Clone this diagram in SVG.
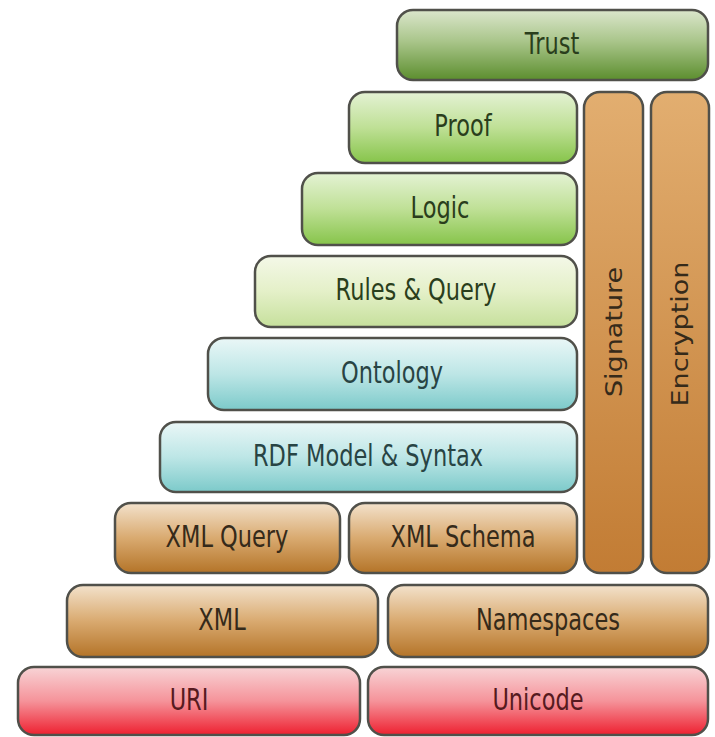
<svg xmlns="http://www.w3.org/2000/svg" width="715" height="737" viewBox="0 0 715 737">
<defs>
<linearGradient id="gTrust" x1="0" y1="0" x2="0" y2="1"><stop offset="0" stop-color="#dbe6cc"/><stop offset="0.45" stop-color="#a9c58a"/><stop offset="1" stop-color="#5c8e2e"/></linearGradient>
<linearGradient id="gGreen" x1="0" y1="0" x2="0" y2="1"><stop offset="0" stop-color="#e4f2d4"/><stop offset="0.5" stop-color="#bfe096"/><stop offset="1" stop-color="#86c44a"/></linearGradient>
<linearGradient id="gLight" x1="0" y1="0" x2="0" y2="1"><stop offset="0" stop-color="#f4f8e8"/><stop offset="0.5" stop-color="#e4f0c8"/><stop offset="1" stop-color="#c6e09c"/></linearGradient>
<linearGradient id="gCyan" x1="0" y1="0" x2="0" y2="1"><stop offset="0" stop-color="#eaf7f7"/><stop offset="0.5" stop-color="#bde6e6"/><stop offset="1" stop-color="#7ccaca"/></linearGradient>
<linearGradient id="gBrown" x1="0" y1="0" x2="0" y2="1"><stop offset="0" stop-color="#f3e2cc"/><stop offset="0.5" stop-color="#d9aa70"/><stop offset="1" stop-color="#b47428"/></linearGradient>
<linearGradient id="gBrownV" x1="0" y1="0" x2="0" y2="1"><stop offset="0" stop-color="#e2ae70"/><stop offset="1" stop-color="#c27c34"/></linearGradient>
<linearGradient id="gRed" x1="0" y1="0" x2="0" y2="1"><stop offset="0" stop-color="#f8d4d6"/><stop offset="0.5" stop-color="#f5939a"/><stop offset="1" stop-color="#ee2030"/></linearGradient>
<style>
rect.box{stroke:#50504a;stroke-width:2.5}
text{font-family:"DejaVu Sans","Liberation Sans",sans-serif;font-size:22.5px;text-anchor:middle;dominant-baseline:central}
.tg{fill:#2a3e1c}
.tc{fill:#284444}
.tb{fill:#352a1a}
.tr{fill:#561a20}
</style>
</defs>
<rect width="715" height="737" fill="#ffffff"/>
<g id="trust"><rect class="box" x="397" y="10" width="311" height="70" rx="16" fill="url(#gTrust)"/><text class="tg" transform="translate(552,44) scale(1,1.3)">Trust</text></g>
<g id="proof"><rect class="box" x="349" y="92" width="228" height="71" rx="16" fill="url(#gGreen)"/><text class="tg" transform="translate(463,126) scale(1,1.3)">Proof</text></g>
<g id="logic"><rect class="box" x="302" y="173" width="275" height="72" rx="16" fill="url(#gGreen)"/><text class="tg" transform="translate(440,208) scale(1,1.3)">Logic</text></g>
<g id="rules"><rect class="box" x="255" y="256" width="322" height="71" rx="16" fill="url(#gLight)"/><text class="tg" transform="translate(416,290) scale(1,1.3)">Rules &amp; Query</text></g>
<g id="ontology"><rect class="box" x="208" y="338" width="369" height="72" rx="16" fill="url(#gCyan)"/><text class="tc" transform="translate(392,373) scale(1,1.3)">Ontology</text></g>
<g id="rdf"><rect class="box" x="160" y="422" width="417" height="70" rx="16" fill="url(#gCyan)"/><text class="tc" transform="translate(368,456) scale(1,1.3)">RDF Model &amp; Syntax</text></g>
<g id="xmlquery"><rect class="box" x="115" y="503" width="225" height="70" rx="16" fill="url(#gBrown)"/><text class="tb" transform="translate(227,537) scale(1,1.3)">XML Query</text></g>
<g id="xmlschema"><rect class="box" x="349" y="503" width="228" height="70" rx="16" fill="url(#gBrown)"/><text class="tb" transform="translate(463,537) scale(1,1.3)">XML Schema</text></g>
<g id="signature"><rect class="box" x="584" y="92" width="59" height="481" rx="16" fill="url(#gBrownV)"/><text class="tb" transform="translate(614,332) rotate(-90) scale(1.2,1)">Signature</text></g>
<g id="encryption"><rect class="box" x="651" y="92" width="58" height="481" rx="16" fill="url(#gBrownV)"/><text class="tb" transform="translate(680,334) rotate(-90) scale(1.2,1)">Encryption</text></g>
<g id="xml"><rect class="box" x="67" y="585" width="311" height="72" rx="16" fill="url(#gBrown)"/><text class="tb" transform="translate(222,620) scale(1,1.3)">XML</text></g>
<g id="namespaces"><rect class="box" x="388" y="585" width="320" height="72" rx="16" fill="url(#gBrown)"/><text class="tb" transform="translate(548,620) scale(1,1.3)">Namespaces</text></g>
<g id="uri"><rect class="box" x="18" y="667" width="342" height="68" rx="16" fill="url(#gRed)"/><text class="tr" transform="translate(189,700) scale(1,1.3)">URI</text></g>
<g id="unicode"><rect class="box" x="368" y="667" width="340" height="68" rx="16" fill="url(#gRed)"/><text class="tr" transform="translate(538,700) scale(1,1.3)">Unicode</text></g>
<g id="connectors"></g>
</svg>
